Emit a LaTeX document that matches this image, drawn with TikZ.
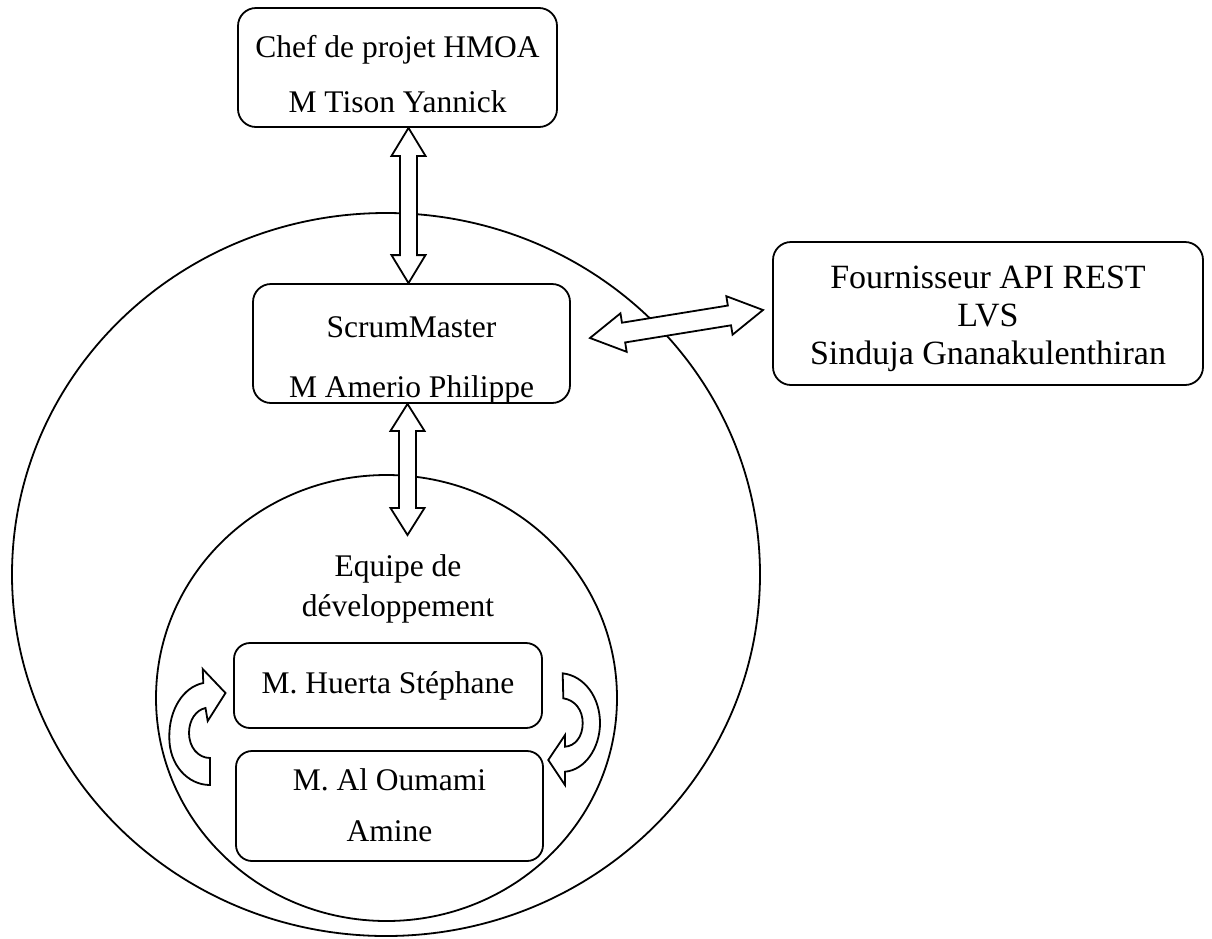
\documentclass[tikz,border=0pt]{standalone}
\usepackage{fontspec}
\setmainfont{Liberation Serif}
\usetikzlibrary{calc,shapes.geometric}
\tikzset{
  rbox/.style={draw, line width=1.8pt, rounded corners=18pt, inner sep=0pt},
  sbox/.style={draw, line width=1.8pt, rounded corners=16pt, inner sep=0pt},
  lbl/.style={anchor=base, inner sep=0pt, font=\fontsize{31.5}{36}\selectfont},
  biglbl/.style={lbl, font=\fontsize{34}{40}\selectfont},
  ring/.style={draw, ellipse, line width=1.8pt, inner sep=0pt},
  blockarrow/.style={draw, line width=1.8pt, fill=white, line join=miter},
}
\newcommand{\dblarrow}[5]{%
  \draw[blockarrow] (#1)
    -- ($(#1)!#5!(#2)!#4!90:(#2)$) -- ($(#1)!#5!(#2)!#3!90:(#2)$)
    -- ($(#2)!#5!(#1)!#3!-90:(#1)$) -- ($(#2)!#5!(#1)!#4!-90:(#1)$)
    -- (#2)
    -- ($(#2)!#5!(#1)!#4!90:(#1)$) -- ($(#2)!#5!(#1)!#3!90:(#1)$)
    -- ($(#1)!#5!(#2)!#3!-90:(#2)$) -- ($(#1)!#5!(#2)!#4!-90:(#2)$)
    -- cycle;}
\begin{document}
\begin{tikzpicture}[x=1pt, y=-1pt]
\useasboundingbox (0,0) rectangle (1212,938);
% circles
\node[ring, minimum width=748pt, minimum height=723pt] (outer) at (386,574.5) {};
\node[ring, minimum width=461pt, minimum height=446pt] (inner) at (386.5,698) {};
% boxes
\node[rbox, minimum width=319pt, minimum height=119pt] (chef) at (397.5,67.5) {};
\node[rbox, minimum width=317pt, minimum height=119pt] (sm) at (411.5,343.5) {};
\node[rbox, minimum width=430pt, minimum height=143pt] (four) at (988,313.5) {};
\node[sbox, minimum width=308pt, minimum height=85pt] (hue) at (388,685.5) {};
\node[sbox, minimum width=307pt, minimum height=110pt] (alo) at (389.5,806) {};
% texts
\node[lbl] (t1) at (397.5,57) {Chef de projet HMOA};
\node[lbl] (t2) at (397.5,112) {M Tison Yannick};
\node[lbl] (t3) at (411.5,337) {ScrumMaster};
\node[lbl] (t4) at (411.5,397) {M Amerio Philippe};
\node[biglbl] (t5) at (988,288) {Fournisseur API REST};
\node[biglbl] (t6) at (988,326) {LVS};
\node[biglbl] (t7) at (988,364) {Sinduja Gnanakulenthiran};
\node[lbl] (t8) at (398,576) {Equipe de};
\node[lbl] (t9) at (398,616) {développement};
\node[lbl] (t10) at (388,693) {M. Huerta Stéphane};
\node[lbl] (t11) at (389.5,790) {M. Al Oumami};
\node[lbl] (t12) at (389.5,841) {Amine};
% arrow end points
\coordinate (ax1) at (408.5,0);
\coordinate (a1t) at (chef.south -| ax1);
\coordinate (a1b) at (sm.north -| ax1);
\coordinate (ax2) at (407.5,0);
\coordinate (a2t) at (sm.south -| ax2);
\coordinate (a2b) at (407.5,535);
\coordinate (a3l) at (590,338);
\coordinate (a3r) at (763,310);
\dblarrow{a1t}{a1b}{8.5pt}{17pt}{28pt}
\dblarrow{a2t}{a2b}{8.5pt}{17pt}{27pt}
\dblarrow{a3l}{a3r}{10pt}{19.5pt}{34pt}
% curved arrows
\draw[blockarrow] (210,785) -- (210,758)
  .. controls (198,758) and (189,747) .. (189,733)
  .. controls (189,720) and (196,710) .. (205.5,708)
  -- (207.7,721) -- (225.5,693) -- (202.7,669) -- (203.3,683)
  .. controls (183,687) and (169,710) .. (169.3,737)
  .. controls (169,765) and (188,785) .. cycle;
\draw[blockarrow] (562.7,673.3) -- (563.3,698.3)
  .. controls (575,700) and (582.7,710) .. (582.7,723)
  .. controls (582.7,737) and (575,746) .. (565,746.7)
  -- (565,735) -- (548.3,760) -- (565,785) -- (565,771.7)
  .. controls (585,770) and (600,748) .. (600,723)
  .. controls (600,698) and (585,676) .. cycle;
\end{tikzpicture}
\end{document}
